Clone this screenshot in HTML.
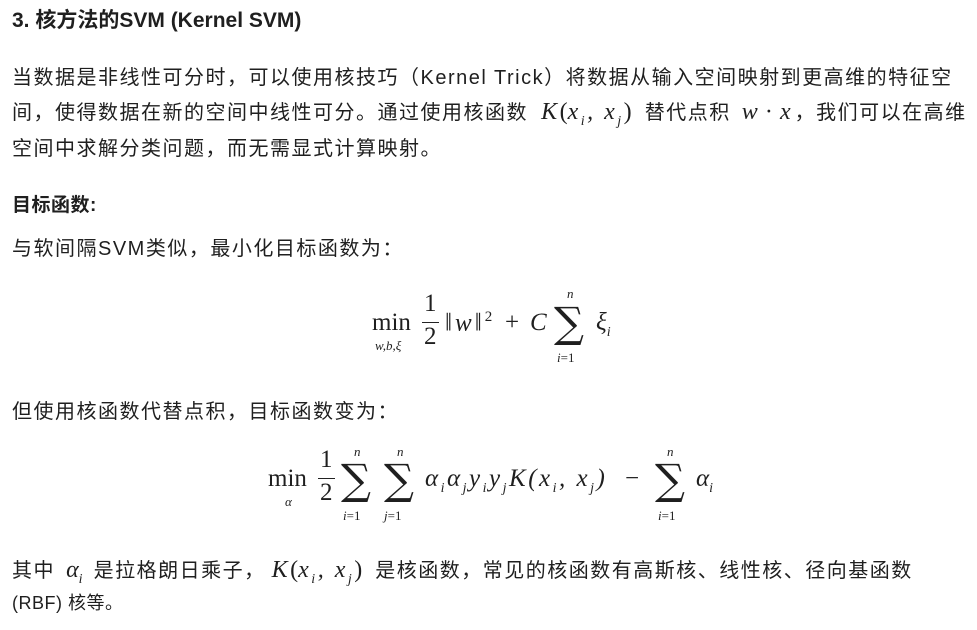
<!DOCTYPE html>
<html><head><meta charset="utf-8"><style>
body{margin:0;width:977px;height:630px;background:#fff;position:relative;overflow:hidden;font-family:"Liberation Sans","Noto Sans CJK SC",sans-serif;color:#1f1f1f}
.a{position:absolute;white-space:nowrap}
.t{font-size:20px;left:12px;letter-spacing:1.5px}
.m{font-family:"Liberation Serif","DejaVu Serif",serif;font-style:italic;letter-spacing:0}
.r{font-family:"Liberation Serif","DejaVu Serif",serif;letter-spacing:0}
.s{font-size:13px}
.sum{font-family:"DejaVu Serif",serif;font-size:42px;line-height:1}
sub{font-size:14px}
.w{letter-spacing:2.5px}
</style></head><body>
<div class="a" style="left:12px;top:4px;font-size:21px;font-weight:bold;letter-spacing:0">3. 核方法的SVM (Kernel SVM)</div>
<div class="a t" style="top:61px">当数据是非线性可分时，可以使用核技巧（Kernel Trick）将数据从输入空间映射到更高维的特征空</div>
<div class="a t" style="top:96px">间，使得数据在新的空间中线性可分。通过使用核函数 <span class="m w" style="font-size:24px;margin-left:6px">K</span><span class="r" style="font-size:24px">(</span><span class="m w" style="font-size:24px">x<sub>i</sub>, x<sub>j</sub></span><span class="r" style="font-size:24px;margin-right:6px">)</span> 替代点积 <span class="m" style="font-size:24px;margin-left:4px">w</span> <span class="r" style="font-size:24px">·</span> <span class="m" style="font-size:24px;margin-right:4px">x</span>，我们可以在高维</div>
<div class="a t" style="top:132px">空间中求解分类问题，而无需显式计算映射。</div>
<div class="a t" style="top:190px;font-weight:bold;letter-spacing:0.5px;font-size:19px">目标函数:</div>
<div class="a t" style="top:232px">与软间隔SVM类似，最小化目标函数为：</div>

<!-- formula 1 -->
<div class="a r" style="left:372px;top:309px;font-size:25px">min</div>
<div class="a m s" style="left:375px;top:338px">w,b,ξ</div>
<div class="a r" style="left:424px;top:290px;font-size:25px">1</div>
<div class="a" style="left:422px;top:322px;width:17px;border-top:1px solid #222"></div>
<div class="a r" style="left:424px;top:323px;font-size:25px">2</div>
<div class="a r" style="left:445px;top:309px;font-size:25px;letter-spacing:3px">‖<span class="m" style="letter-spacing:3px">w</span>‖<sup style="font-size:15px">2</sup></div>
<div class="a r" style="left:505px;top:309px;font-size:25px">+</div>
<div class="a m" style="left:530px;top:309px;font-size:25px">C</div>
<div class="a m s" style="left:567px;top:286px">n</div>
<div class="a sum" style="left:554px;top:302px">∑</div>
<div class="a s r" style="left:557px;top:350px"><span class="m">i</span>=1</div>
<div class="a m" style="left:596px;top:309px;font-size:25px">ξ<sub>i</sub></div>

<div class="a t" style="top:395px">但使用核函数代替点积，目标函数变为：</div>

<!-- formula 2 -->
<div class="a r" style="left:268px;top:465px;font-size:25px">min</div>
<div class="a m s" style="left:285px;top:494px">α</div>
<div class="a r" style="left:320px;top:446px;font-size:25px">1</div>
<div class="a" style="left:318px;top:478px;width:17px;border-top:1px solid #222"></div>
<div class="a r" style="left:320px;top:479px;font-size:25px">2</div>
<div class="a m s" style="left:354px;top:444px">n</div>
<div class="a sum" style="left:341px;top:459px">∑</div>
<div class="a s r" style="left:343px;top:508px"><span class="m">i</span>=1</div>
<div class="a m s" style="left:397px;top:444px">n</div>
<div class="a sum" style="left:384px;top:459px">∑</div>
<div class="a s r" style="left:384px;top:508px"><span class="m">j</span>=1</div>
<div class="a m" style="left:425px;top:465px;font-size:25px;letter-spacing:2.5px">α<sub>i</sub>α<sub>j</sub>y<sub>i</sub>y<sub>j</sub>K<span class="r" style="letter-spacing:2.5px">(</span>x<sub>i</sub>, x<sub>j</sub><span class="r">)</span></div>
<div class="a r" style="left:625px;top:465px;font-size:25px">−</div>
<div class="a m s" style="left:667px;top:444px">n</div>
<div class="a sum" style="left:655px;top:459px">∑</div>
<div class="a s r" style="left:658px;top:508px"><span class="m">i</span>=1</div>
<div class="a m" style="left:696px;top:465px;font-size:25px">α<sub>i</sub></div>

<div class="a t" style="top:554px">其中 <span class="m" style="font-size:24px;margin:0 4px">α<sub>i</sub></span> 是拉格朗日乘子，<span class="m w" style="font-size:24px;margin-left:6px">K</span><span class="r" style="font-size:24px">(</span><span class="m w" style="font-size:24px">x<sub>i</sub>, x<sub>j</sub></span><span class="r" style="font-size:24px;margin-right:6px">)</span> 是核函数，常见的核函数有高斯核、线性核、径向基函数</div>
<div class="a t" style="top:589px;letter-spacing:0.5px;font-size:18px">(RBF) 核等。</div>
</body></html>
